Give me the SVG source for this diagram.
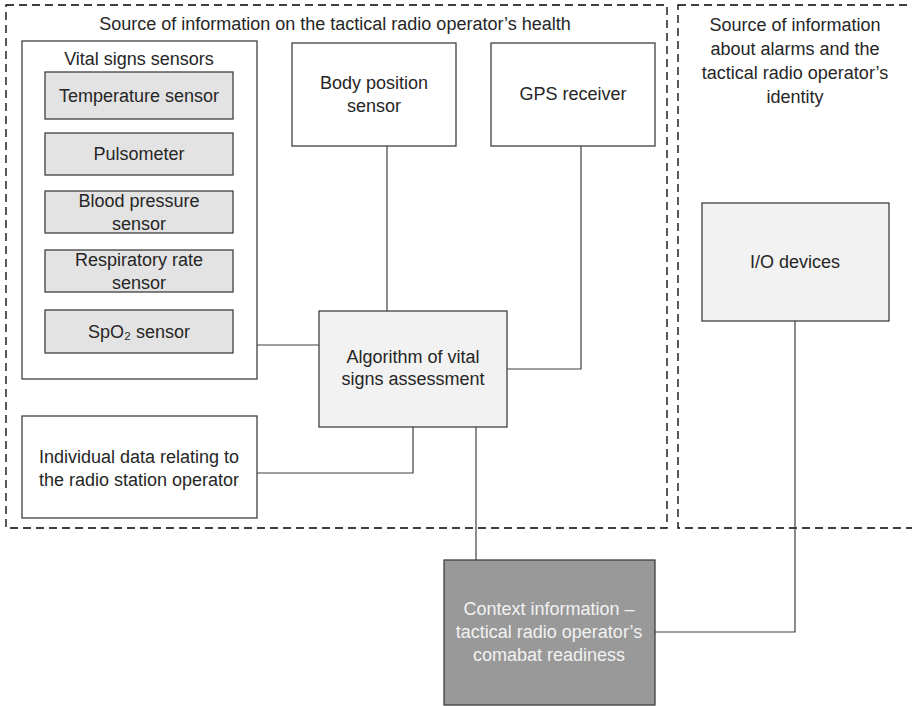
<svg xmlns="http://www.w3.org/2000/svg" width="912" height="706" viewBox="0 0 912 706">
<style>
text{font-family:"Liberation Sans",Arial,sans-serif;font-size:18px;fill:#262626;text-anchor:middle}
.box{fill:#ffffff;stroke:#404040;stroke-width:1.3}
.sens{fill:#e3e3e3;stroke:#404040;stroke-width:1.3}
.light{fill:#f2f2f2;stroke:#404040;stroke-width:1.3}
.dark{fill:#999999;stroke:#404040;stroke-width:1.3}
.dash{fill:none;stroke:#000000;stroke-width:1.3;stroke-dasharray:8 5}
.conn{fill:none;stroke:#404040;stroke-width:1.2}
text.wt{fill:#f2f2f2}
</style>
<rect width="912" height="706" fill="#ffffff"/>
<g id="group-health">
<rect class="dash" x="6" y="5" width="661" height="523"/>
<text x="335" y="30">Source of information on the tactical radio operator’s health</text>
</g>
<g id="group-alarms">
<rect class="dash" x="678" y="5" width="240" height="523"/>
<text x="795" y="31">Source of information</text>
<text x="795" y="55">about alarms and the</text>
<text x="795" y="79">tactical radio operator’s</text>
<text x="795" y="103">identity</text>
</g>
<g id="vital-signs-sensors">
<rect class="box" x="22" y="41" width="235" height="338"/>
<text x="139" y="65">Vital signs sensors</text>
</g>
<g id="temperature-sensor">
<rect class="sens" x="45" y="72" width="188" height="47"/>
<text x="139" y="102">Temperature sensor</text>
</g>
<g id="pulsometer">
<rect class="sens" x="45" y="133" width="188" height="42"/>
<text x="139" y="160">Pulsometer</text>
</g>
<g id="blood-pressure-sensor">
<rect class="sens" x="45" y="191" width="188" height="42"/>
<text x="139" y="207">Blood pressure</text>
<text x="139" y="230">sensor</text>
</g>
<g id="respiratory-rate-sensor">
<rect class="sens" x="45" y="250" width="188" height="42"/>
<text x="139" y="266">Respiratory rate</text>
<text x="139" y="289">sensor</text>
</g>
<g id="spo2-sensor">
<rect class="sens" x="45" y="310" width="188" height="43"/>
<text x="139" y="338">SpO₂ sensor</text>
</g>
<g id="body-position-sensor">
<rect class="box" x="292" y="43" width="164" height="103"/>
<text x="374" y="89">Body position</text>
<text x="374" y="112">sensor</text>
</g>
<g id="gps-receiver">
<rect class="box" x="491" y="43" width="164" height="103"/>
<text x="573" y="100">GPS receiver</text>
</g>
<g id="algorithm">
<rect class="light" x="319" y="311" width="188" height="116"/>
<text x="413" y="363">Algorithm of vital</text>
<text x="413" y="385">signs assessment</text>
</g>
<g id="individual-data">
<rect class="box" x="22" y="416" width="235" height="102"/>
<text x="139" y="463">Individual data relating to</text>
<text x="139" y="486">the radio station operator</text>
</g>
<g id="io-devices">
<rect class="light" x="702" y="203" width="187" height="118"/>
<text x="795" y="268">I/O devices</text>
</g>
<g id="context-information">
<rect class="dark" x="444" y="560" width="211" height="145"/>
<text class="wt" x="549" y="615">Context information –</text>
<text class="wt" x="549" y="638">tactical radio operator’s</text>
<text class="wt" x="549" y="661">comabat readiness</text>
</g>
<g id="connectors">
<path class="conn" d="M387 146V311"/>
<path class="conn" d="M581 146V369H507"/>
<path class="conn" d="M257 345H319"/>
<path class="conn" d="M257 473H413V427"/>
<path class="conn" d="M476 427V560"/>
<path class="conn" d="M655 632H795V321"/>
</g>
</svg>
